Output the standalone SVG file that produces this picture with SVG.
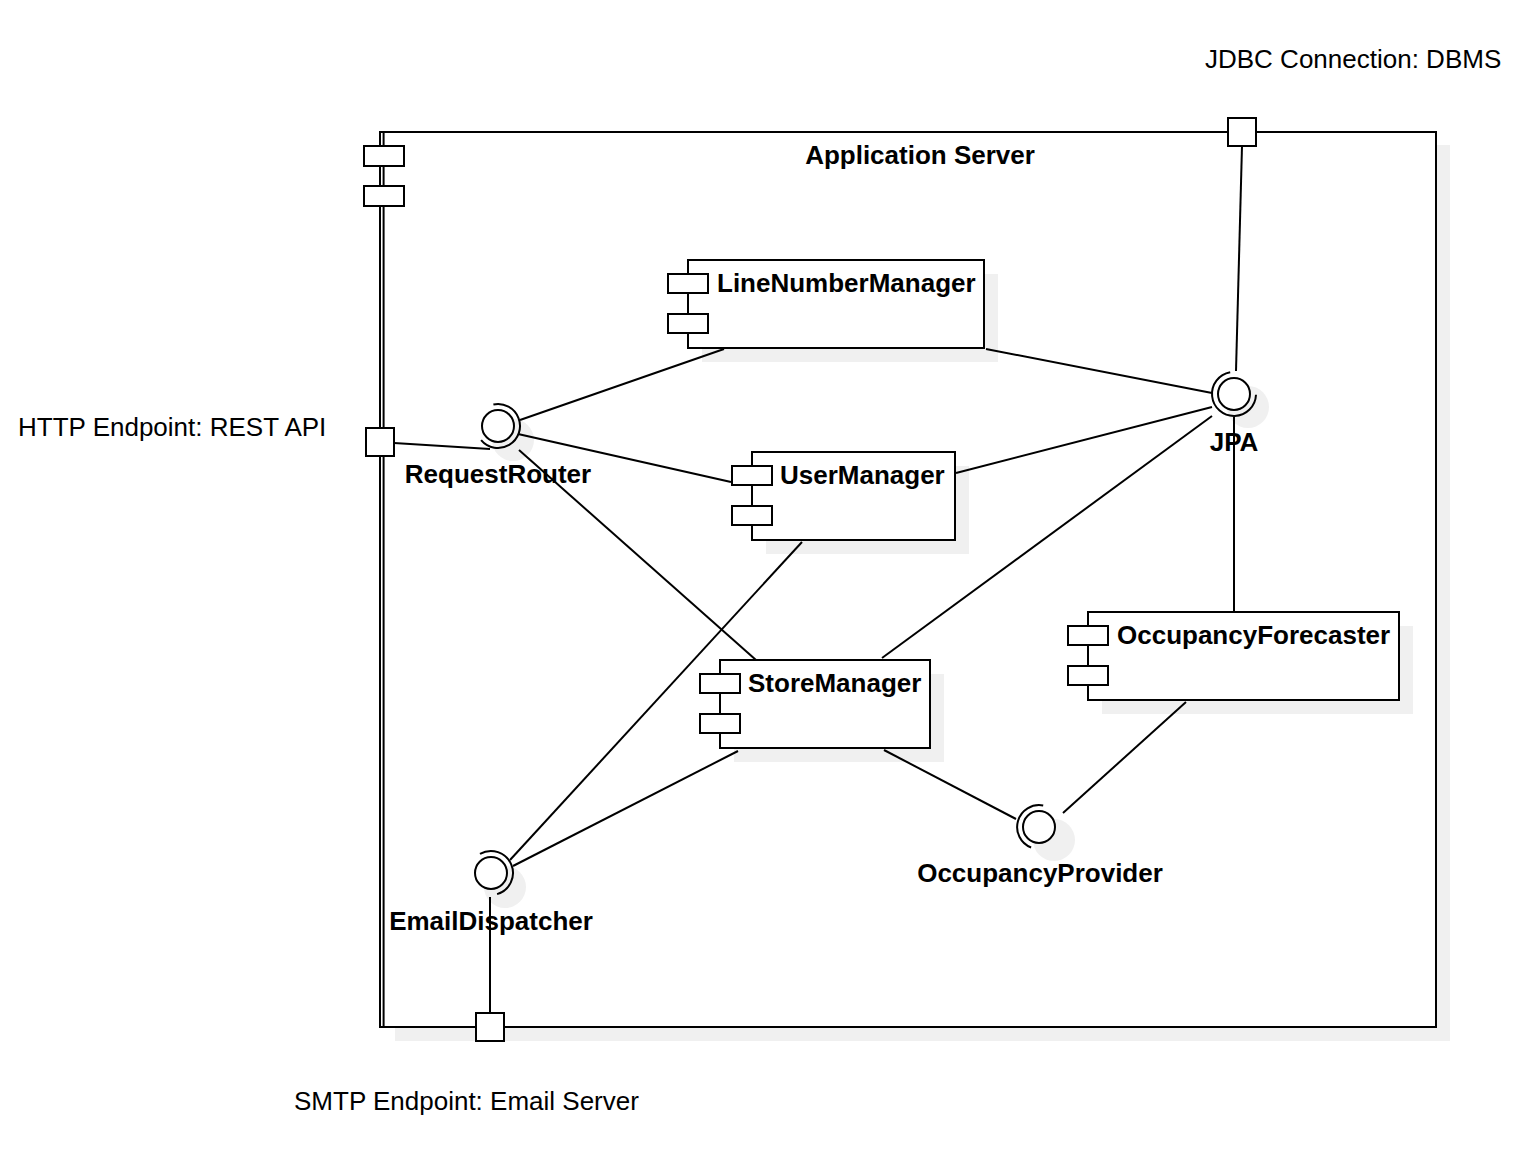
<svg xmlns="http://www.w3.org/2000/svg" width="1530" height="1158" viewBox="0 0 1530 1158">
<style>
.sh{fill:#f0f0f0;stroke:none}
.box{fill:#ffffff;stroke:#000;stroke-width:2}
.ln{stroke:#000;stroke-width:2;fill:none}
.arc{stroke:#000;stroke-width:2;fill:none}
.t{font-family:"Liberation Sans",Arial,sans-serif;font-size:26px;fill:#000}
.b{font-weight:bold}
</style>
<rect width="1530" height="1158" fill="#ffffff"/>

<g id="app-server">
  <rect class="sh" x="395" y="145" width="1055" height="896"/>
  <rect x="381" y="132" width="1055" height="895" fill="#ffffff" stroke="none"/>
  <path class="ln" d="M380,132 H1436 V1027 H380"/>
  <line class="ln" x1="380" y1="131" x2="380" y2="1028"/>
  <line class="ln" x1="383.6" y1="132" x2="383.6" y2="1027"/>
  <rect class="box" x="364" y="146" width="40" height="20"/>
  <rect class="box" x="364" y="186" width="40" height="20"/>
  <text class="t b" x="920" y="164" text-anchor="middle">Application Server</text>
</g>

<g id="port-jdbc">
  <rect class="box" x="1228" y="118" width="28" height="28"/>
  <text class="t" x="1205" y="68">JDBC Connection: DBMS</text>
</g>
<g id="port-http">
  <rect class="box" x="366" y="428" width="28" height="28"/>
  <text class="t" x="18" y="436">HTTP Endpoint: REST API</text>
</g>
<g id="port-smtp">
  <rect class="box" x="476" y="1013" width="28" height="28"/>
  <text class="t" x="294" y="1110">SMTP Endpoint: Email Server</text>
</g>

<g id="LineNumberManager">
  <rect class="sh" x="702" y="274" width="296" height="88"/>
  <rect class="box" x="688" y="260" width="296" height="88"/>
  <rect class="box" x="668" y="274" width="40" height="19"/>
  <rect class="box" x="668" y="314" width="40" height="19"/>
  <text class="t b" x="717" y="292">LineNumberManager</text>
</g>
<g id="UserManager">
  <rect class="sh" x="766" y="466" width="203" height="88"/>
  <rect class="box" x="752" y="452" width="203" height="88"/>
  <rect class="box" x="732" y="466" width="40" height="19"/>
  <rect class="box" x="732" y="506" width="40" height="19"/>
  <text class="t b" x="780" y="484">UserManager</text>
</g>
<g id="StoreManager">
  <rect class="sh" x="734" y="674" width="210" height="88"/>
  <rect class="box" x="720" y="660" width="210" height="88"/>
  <rect class="box" x="700" y="674" width="40" height="19"/>
  <rect class="box" x="700" y="714" width="40" height="19"/>
  <text class="t b" x="748" y="692">StoreManager</text>
</g>
<g id="OccupancyForecaster">
  <rect class="sh" x="1102" y="626" width="311" height="88"/>
  <rect class="box" x="1088" y="612" width="311" height="88"/>
  <rect class="box" x="1068" y="626" width="40" height="19"/>
  <rect class="box" x="1068" y="666" width="40" height="19"/>
  <text class="t b" x="1117" y="644">OccupancyForecaster</text>
</g>

<g id="RequestRouter">
  <circle class="sh" cx="513" cy="440" r="21"/>
  <circle cx="498" cy="426" r="16" fill="#ffffff" stroke="#000" stroke-width="2"/>
  <path class="arc" d="M493.4,404.5 A22,22 0 1 1 481.1,440.1"/>
  <text class="t b" x="498" y="483" text-anchor="middle">RequestRouter</text>
</g>
<g id="JPA">
  <circle class="sh" cx="1248" cy="407" r="21"/>
  <circle cx="1234" cy="394" r="16" fill="#ffffff" stroke="#000" stroke-width="2"/>
  <path class="arc" d="M1256,394.8 A22,22 0 1 1 1230.2,372.3"/>
  <text class="t b" x="1234" y="451" text-anchor="middle">JPA</text>
</g>
<g id="EmailDispatcher">
  <circle class="sh" cx="505" cy="887" r="21"/>
  <circle cx="491" cy="873" r="16" fill="#ffffff" stroke="#000" stroke-width="2"/>
  <path class="arc" d="M480,853.9 A22,22 0 1 1 497.1,894.1"/>
  <text class="t b" x="491" y="930" text-anchor="middle">EmailDispatcher</text>
</g>
<g id="OccupancyProvider">
  <circle class="sh" cx="1054" cy="840" r="21"/>
  <circle cx="1039" cy="827" r="16" fill="#ffffff" stroke="#000" stroke-width="2"/>
  <path class="arc" d="M1031.1,847.5 A22,22 0 0 1 1043.2,805.4"/>
  <text class="t b" x="1040" y="882" text-anchor="middle">OccupancyProvider</text>
</g>

<g id="connectors" class="ln">
  <line x1="394" y1="443" x2="490" y2="449"/>
  <line x1="520" y1="420" x2="724" y2="349"/>
  <line x1="518" y1="434" x2="731" y2="482"/>
  <line x1="519" y1="450" x2="756" y2="660"/>
  <line x1="986" y1="349" x2="1212" y2="393"/>
  <line x1="956" y1="473" x2="1212" y2="407"/>
  <line x1="882" y1="658" x2="1212" y2="416"/>
  <line x1="1242" y1="146" x2="1236" y2="371"/>
  <line x1="1234" y1="417" x2="1234" y2="612"/>
  <line x1="802" y1="542" x2="510" y2="860"/>
  <line x1="738" y1="751" x2="513" y2="866"/>
  <line x1="884" y1="750" x2="1016" y2="819"/>
  <line x1="1186" y1="702" x2="1063" y2="813"/>
  <line x1="490" y1="897" x2="490" y2="1013"/>
</g>
</svg>
